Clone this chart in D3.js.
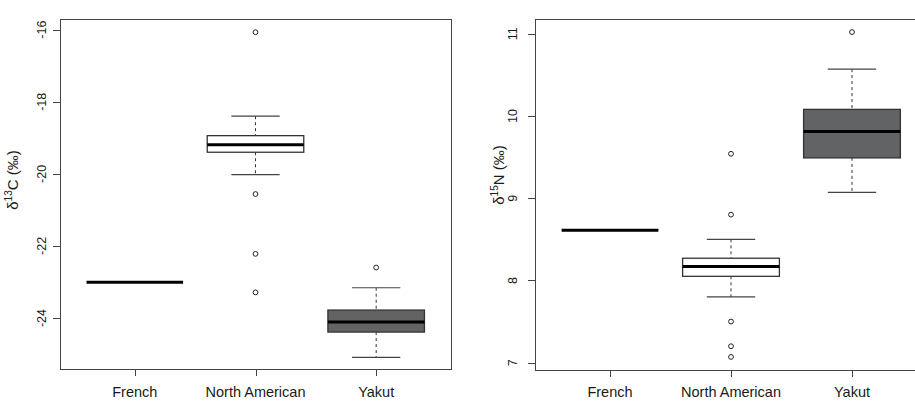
<!DOCTYPE html>
<html>
<head>
<meta charset="utf-8">
<script src="https://cdn.jsdelivr.net/npm/d3@7"></script>
<style>
html,body{margin:0;padding:0;background:#fff;overflow:hidden;}
svg{display:block;font-family:"Liberation Sans",Arial,sans-serif;}
</style>
</head>
<body>
<svg id="chart" width="915" height="401"></svg>
<script>
// ---- data ----
const categories = ["French", "North American", "Yakut"];

// delta 13C panel
const c13Lower   = [-23.01, -20.02, -25.09];
const c13Q1      = [-23.01, -19.40, -24.39];
const c13Median  = [-23.01, -19.19, -24.11];
const c13Q3      = [-23.01, -18.94, -23.78];
const c13Upper   = [-23.01, -18.40, -23.16];
const c13Outliers = [[], [-16.07, -20.56, -22.22, -23.29], [-22.60]];
const c13Ticks   = [-24, -22, -20, -18, -16];

// delta 15N panel
const n15Lower   = [8.61, 7.80, 9.07];
const n15Q1      = [8.61, 8.05, 9.49];
const n15Median  = [8.61, 8.17, 9.81];
const n15Q3      = [8.61, 8.27, 10.08];
const n15Upper   = [8.61, 8.50, 10.57];
const n15Outliers = [[], [9.54, 8.80, 7.50, 7.20, 7.07], [11.02]];
const n15Ticks   = [7, 8, 9, 10, 11];

const boxFills = ["none", "#ffffff", "#616365"];

const svg = d3.select("#chart");

function panel(cfg) {
  const g = svg.append("g");
  const x = d3.scaleLinear().domain([0.38, 3.62]).range([cfg.left, cfg.right]);
  const y = d3.scaleLinear().domain(cfg.domain).range([cfg.bottom, cfg.top]);
  const bw = 0.8, cw = 0.4;

  // plot box
  g.append("rect")
    .attr("x", cfg.left + 0.5).attr("y", cfg.top + 0.5)
    .attr("width", cfg.right - cfg.left).attr("height", cfg.bottom - cfg.top)
    .attr("fill", "none").attr("stroke", "#444").attr("stroke-width", 1);

  // y axis ticks + labels
  cfg.ticks.forEach(t => {
    const yy = Math.round(y(t)) + 0.5;
    g.append("line").attr("x1", cfg.left - 7).attr("x2", cfg.left)
      .attr("y1", yy).attr("y2", yy).attr("stroke", "#444");
    g.append("text")
      .attr("transform", `translate(${cfg.left - cfg.tickOff},${y(t)}) rotate(-90)`)
      .attr("text-anchor", "middle").attr("font-size", 12.5).attr("fill", "#1a1a1a")
      .text(t);
  });

  // x axis ticks + labels
  categories.forEach((c, i) => {
    const xx = Math.round(x(i + 1)) + 0.5;
    g.append("line").attr("x1", xx).attr("x2", xx)
      .attr("y1", cfg.bottom).attr("y2", cfg.bottom + 7).attr("stroke", "#444");
    g.append("text").attr("x", x(i + 1)).attr("y", 397)
      .attr("text-anchor", "middle").attr("font-size", 14.5).attr("fill", "#1a1a1a")
      .text(c);
  });

  // y label
  const lab = g.append("text")
    .attr("transform", `translate(${cfg.labX},${cfg.labY}) rotate(-90)`)
    .attr("text-anchor", "middle").attr("font-size", 15).attr("fill", "#1a1a1a");
  lab.append("tspan").text("δ");
  lab.append("tspan").attr("font-size", 10).attr("dy", -6).text(cfg.iso);
  lab.append("tspan").attr("dy", 6).text(cfg.el + " (‰)");

  // boxes
  categories.forEach((c, i) => {
    const cx = x(i + 1);
    const x0 = x(i + 1 - bw / 2), x1 = x(i + 1 + bw / 2);
    const c0 = x(i + 1 - cw / 2), c1 = x(i + 1 + cw / 2);
    const lo = cfg.lower[i], q1 = cfg.q1[i], med = cfg.median[i], q3 = cfg.q3[i], hi = cfg.upper[i];
    if (q3 > q1) {
      // whiskers
      g.append("line").attr("x1", cx).attr("x2", cx).attr("y1", y(hi)).attr("y2", y(q3))
        .attr("stroke", "#333").attr("stroke-dasharray", "3,3");
      g.append("line").attr("x1", cx).attr("x2", cx).attr("y1", y(q1)).attr("y2", y(lo))
        .attr("stroke", "#333").attr("stroke-dasharray", "3,3");
      [hi, lo].forEach(v => {
        g.append("line").attr("x1", c0).attr("x2", c1).attr("y1", y(v)).attr("y2", y(v))
          .attr("stroke", "#444").attr("stroke-width", 1.2);
      });
      g.append("rect").attr("x", x0).attr("y", y(q3)).attr("width", x1 - x0)
        .attr("height", y(q1) - y(q3)).attr("fill", boxFills[i])
        .attr("stroke", "#333").attr("stroke-width", 1.3);
    }
    g.append("line").attr("x1", x0).attr("x2", x1).attr("y1", y(med)).attr("y2", y(med))
      .attr("stroke", "#000").attr("stroke-width", 3);
    cfg.outliers[i].forEach(v => {
      g.append("circle").attr("cx", cx).attr("cy", y(v)).attr("r", 2.4)
        .attr("fill", "none").attr("stroke", "#222").attr("stroke-width", 1);
    });
  });
}

panel({
  left: 60, right: 451, top: 19, bottom: 369,
  domain: [-25.415, -15.703], ticks: c13Ticks, tickOff: 14,
  labX: 18, labY: 180, iso: "13", el: "C",
  lower: c13Lower, q1: c13Q1, median: c13Median, q3: c13Q3, upper: c13Upper, outliers: c13Outliers
});

panel({
  left: 535, right: 927, top: 19, bottom: 370,
  domain: [6.911, 11.179], ticks: n15Ticks, tickOff: 18,
  labX: 504, labY: 175, iso: "15", el: "N",
  lower: n15Lower, q1: n15Q1, median: n15Median, q3: n15Q3, upper: n15Upper, outliers: n15Outliers
});
</script>
</body>
</html>
